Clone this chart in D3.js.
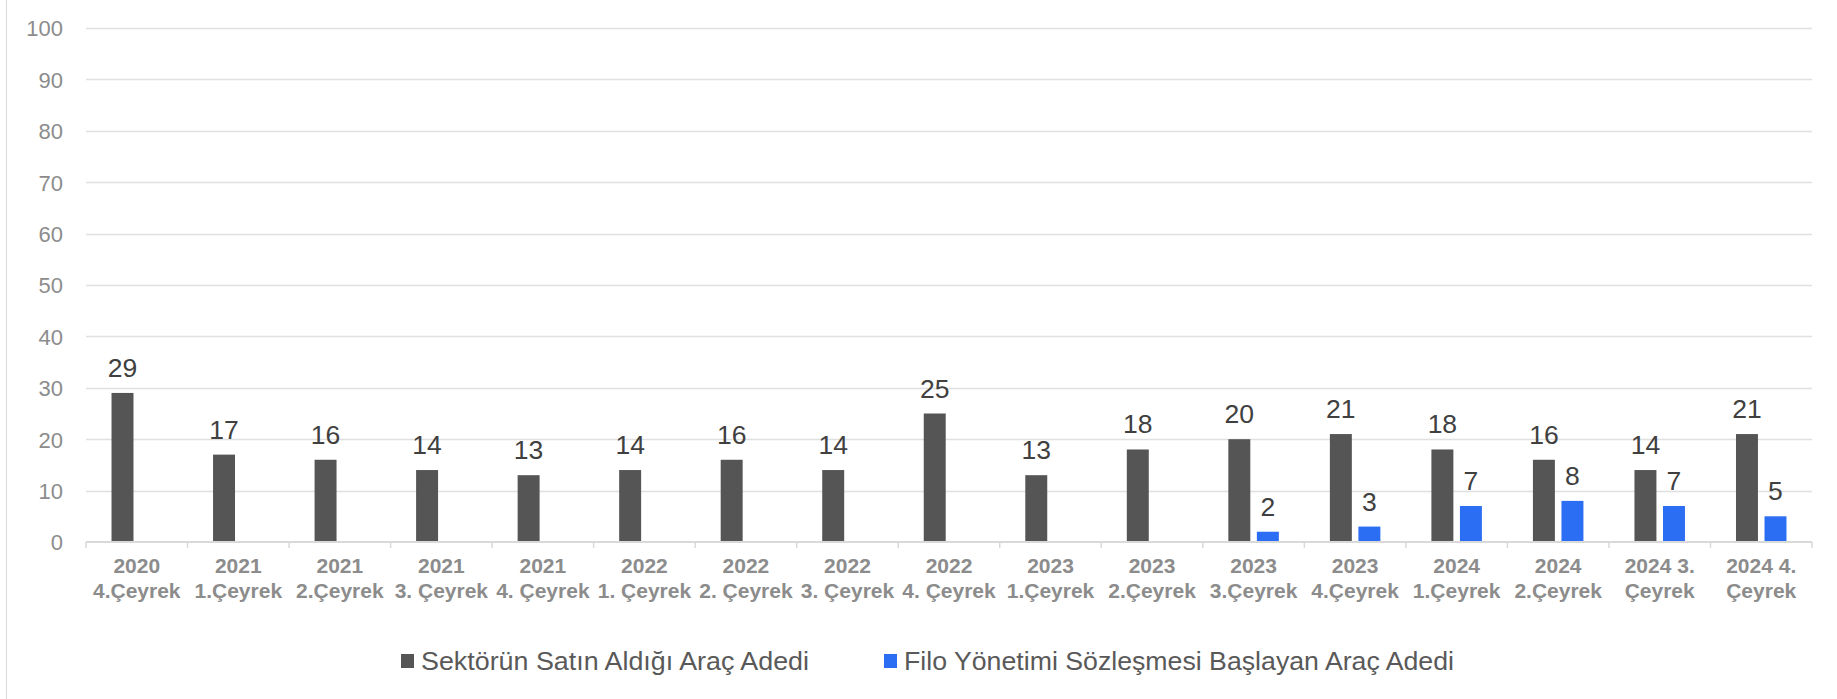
<!DOCTYPE html>
<html>
<head>
<meta charset="utf-8">
<script src="https://cdn.jsdelivr.net/npm/d3@7"></script>
<style>
  html, body { margin: 0; padding: 0; background: #fff; }
  svg { display: block; font-family: "Liberation Sans", Arial, sans-serif; }
</style>
</head>
<body>
<script>
const categories = [
  "2020\n4.Çeyrek", "2021\n1.Çeyrek", "2021\n2.Çeyrek", "2021\n3. Çeyrek", "2021\n4. Çeyrek",
  "2022\n1. Çeyrek", "2022\n2. Çeyrek", "2022\n3. Çeyrek", "2022\n4. Çeyrek",
  "2023\n1.Çeyrek", "2023\n2.Çeyrek", "2023\n3.Çeyrek", "2023\n4.Çeyrek",
  "2024\n1.Çeyrek", "2024\n2.Çeyrek", "2024 3.\nÇeyrek", "2024 4.\nÇeyrek"
];
const seriesNames = ["Sektörün Satın Aldığı Araç Adedi", "Filo Yönetimi Sözleşmesi Başlayan Araç Adedi"];
const sectorValues = [29, 17, 16, 14, 13, 14, 16, 14, 25, 13, 18, 20, 21, 18, 16, 14, 21];
const filoValues = [null, null, null, null, null, null, null, null, null, null, null, 2, 3, 7, 8, 7, 5];
const yTicks = [0, 10, 20, 30, 40, 50, 60, 70, 80, 90, 100];
const seriesColors = ["#555555", "#2B6DF3"];

const W = 1837, H = 699;
const svg = d3.select("body").append("svg").attr("width", W).attr("height", H);

// chart frame left border
svg.append("line").attr("x1", 6.5).attr("x2", 6.5).attr("y1", 0).attr("y2", H)
  .attr("stroke", "#d9d9d9").attr("stroke-width", 1);

const x0 = d3.scaleBand().domain(categories).range([86, 1812]).paddingInner(0).paddingOuter(0);
const groupW = 50.5;
const x1 = d3.scaleBand().domain(seriesNames)
  .range([(x0.bandwidth() - groupW) / 2, (x0.bandwidth() + groupW) / 2]).paddingInner(0.23);
const y = d3.scaleLinear().domain([0, 100]).range([542, 28]);

// gridlines
svg.append("g").selectAll("line").data(yTicks.filter(d => d !== 0)).join("line")
  .attr("x1", 86).attr("x2", 1812)
  .attr("y1", d => Math.round(y(d)) + 0.5).attr("y2", d => Math.round(y(d)) + 0.5)
  .attr("stroke", "#e0e0e0").attr("stroke-width", 1.5);

// y axis labels
const yAxis = d3.axisLeft(y).tickValues(yTicks).tickSize(0).tickPadding(0);
const gy = svg.append("g").attr("transform", "translate(63,0)").call(yAxis);
gy.select(".domain").remove();
gy.selectAll("text").attr("font-size", 22).attr("fill", "#8c8c8c")
  .attr("font-family", "Liberation Sans, Arial, sans-serif").attr("dy", "0.36em");

// bars
const rows = categories.map((c, i) => ({ cat: c, vals: [sectorValues[i], filoValues[i]] }));
const groups = svg.append("g").selectAll("g").data(rows).join("g")
  .attr("transform", d => `translate(${x0(d.cat)},0)`);
groups.selectAll("rect")
  .data(d => d.vals.map((v, k) => ({ v, k })).filter(o => o.v != null))
  .join("rect")
  .attr("x", o => x1(seriesNames[o.k]))
  .attr("width", x1.bandwidth())
  .attr("y", o => y(o.v))
  .attr("height", o => y(0) - y(o.v))
  .attr("fill", o => seriesColors[o.k]);
groups.selectAll("text.val")
  .data(d => d.vals.map((v, k) => ({ v, k })).filter(o => o.v != null))
  .join("text").attr("class", "val")
  .attr("x", o => x1(seriesNames[o.k]) + x1.bandwidth() / 2)
  .attr("y", o => y(o.v) - 16)
  .attr("text-anchor", "middle").attr("font-size", 26.5).attr("fill", "#404040")
  .text(o => o.v);

// x axis
const xAxis = d3.axisBottom(x0).tickSize(0).tickFormat(() => "");
const gx = svg.append("g").attr("transform", `translate(0,${y(0)})`).call(xAxis);
gx.select(".domain").attr("stroke", "#d9d9d9").attr("stroke-width", 2).attr("d", "M86,0H1812");
gx.selectAll(".tick").remove();
const bounds = categories.map(c => x0(c)).concat([x0.range()[1]]);
gx.selectAll("line.sep").data(bounds).join("line").attr("class", "sep")
  .attr("x1", d => d).attr("x2", d => d).attr("y1", 0).attr("y2", 6)
  .attr("stroke", "#d9d9d9").attr("stroke-width", 1.5);
const xl = svg.append("g").selectAll("text").data(categories).join("text")
  .attr("x", d => x0(d) + x0.bandwidth() / 2)
  .attr("y", 573)
  .attr("text-anchor", "middle").attr("font-size", 21).attr("font-weight", "bold").attr("fill", "#8c8c8c");
xl.selectAll("tspan").data(d => d.split("\n")).join("tspan")
  .attr("x", function () { return d3.select(this.parentNode).attr("x"); })
  .attr("dy", (d, i) => i === 0 ? 0 : 24.5)
  .text(d => d);

// legend
const legendX = [401, 884];
const legendTextW = [388, 550];
const lg = svg.append("g").selectAll("g").data(seriesNames).join("g")
  .attr("transform", (d, i) => `translate(${legendX[i]},0)`);
lg.append("rect").attr("x", 0).attr("y", 654).attr("width", 13).attr("height", 14)
  .attr("fill", (d, i) => seriesColors[i]);
lg.append("text").attr("x", 20).attr("y", 670).attr("font-size", 26).attr("fill", "#595959")
  .attr("textLength", (d, i) => legendTextW[i]).attr("lengthAdjust", "spacingAndGlyphs")
  .text(d => d);
</script>
</body>
</html>
